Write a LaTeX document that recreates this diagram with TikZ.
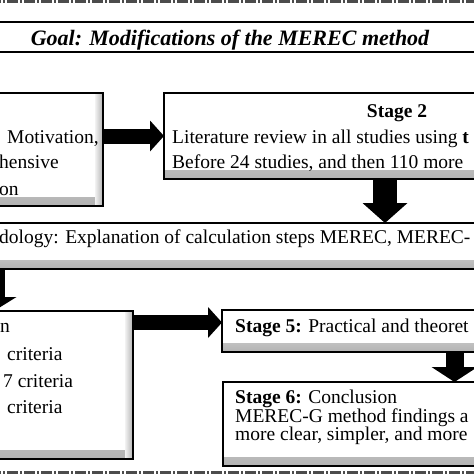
\documentclass[tikz,border=0pt]{standalone}
\usepackage{fontspec}
\setmainfont{Liberation Serif}
\usetikzlibrary{arrows.meta}

\begin{document}
\begin{tikzpicture}[x=1pt, y=-1pt, font=\fontsize{19.5}{19.5}\selectfont,
    stagebox/.style = {draw, line width=1.2pt, inner sep=0pt, outer sep=0pt, anchor=north west,
      path picture={
        \shade[top color=gray!10, bottom color=gray!60] ([yshift=9pt]path picture bounding box.south west) rectangle (path picture bounding box.south east);
        \shade[left color=gray!10, right color=gray!60] ([xshift=-8pt]path picture bounding box.north east) rectangle (path picture bounding box.south east);
      }},
    goalbox/.style = {draw, line width=1.2pt, inner sep=0pt, outer sep=0pt, anchor=north west,
      path picture={
        \shade[top color=gray!70, bottom color=white] (path picture bounding box.north west) rectangle ([yshift=8pt]path picture bounding box.north east);
      }},
    txt/.style = {anchor=base west, inner sep=0pt},
    frame/.style = {draw=gray!60!black, line width=3pt, dash pattern=on 11pt off 2pt on 2pt off 2pt},
    blockright/.style = {line width=15pt, -{Triangle[length=14pt, width=31pt, line width=0pt]}},
    blockdown/.style = {line width=24pt, -{Triangle[length=20pt, width=45pt, line width=0pt]}}]
  \useasboundingbox (0,0) rectangle (474,474);

  \draw[frame] (-10,1.5) -- (484,1.5);
  \draw[frame] (-10,472.5) -- (484,472.5);

  \node[goalbox, minimum width=520pt, minimum height=30pt] (goal) at (-20,22) {};
  \node[anchor=base, inner sep=0pt, font=\fontsize{22}{22}\selectfont\bfseries\itshape] (goaltext) at (230,45) {Goal: Modifications of the MEREC method};

  \node[stagebox, minimum width=203pt, minimum height=113pt] (s1) at (-100,93) {};
  \node[stagebox, minimum width=466pt, minimum height=86pt] (s2) at (164,93) {};
  \node[stagebox, minimum width=700pt, minimum height=46pt] (s3) at (-100,223) {};
  \node[stagebox, minimum width=233pt, minimum height=148pt] (s4) at (-100,311) {};
  \node[stagebox, minimum width=380pt, minimum height=42pt] (s5) at (222,310) {};
  \node[stagebox, minimum width=380pt, minimum height=84pt] (s6) at (223,382) {};

  \node[txt] (t1a) at (7,143) {Motivation,};
  \node[txt] (t1b) at (-1,168) {hensive};
  \node[txt] (t1c) at (-1,195) {on};

  \node[anchor=base, inner sep=0pt] (t2a) at (397,117) {\textbf{Stage 2}};
  \node[txt] (t2b) at (172,143) {Literature review in all studies using \textbf{t}};
  \node[txt] (t2c) at (172,168) {Before 24 studies, and then 110 more};

  \node[txt] (t3) at (-1,243) {dology: Explanation of calculation steps MEREC, MEREC-};

  \node[txt] (t4a) at (0,332) {n};
  \node[txt] (t4b) at (7,360) {criteria};
  \node[txt] (t4c) at (3,387) {7 criteria};
  \node[txt] (t4d) at (7,413) {criteria};

  \node[txt] (t5) at (235,332) {\textbf{Stage 5:} Practical and theoret};

  \node[txt] (t6a) at (235,403) {\textbf{Stage 6:} Conclusion};
  \node[txt] (t6b) at (235,422) {MEREC-G method findings a};
  \node[txt] (t6c) at (235,440) {more clear, simpler, and more};

  % arrows between the stages
  \coordinate (c2) at (385,0);
  \coordinate (c3) at (-6,0);
  \coordinate (c4) at (0,322.5);
  \coordinate (c5) at (454.5,0);
  \draw[blockright] (s1.east |- s2.west) -- (s2.west);
  \draw[blockdown] (s2.south -| c2) -- (s3.north -| c2);
  \draw[blockdown, line width=22pt, -{Triangle[length=14pt, width=45pt, line width=0pt]}] (s3.south -| c3) -- (s4.north -| c3);
  \draw[blockright] (s4.east |- c4) -- (s5.west |- c4);
  \draw[blockdown, line width=18pt, -{Triangle[length=15pt, width=46pt, line width=0pt]}] (s5.south -| c5) -- (s6.north -| c5);
\end{tikzpicture}
\end{document}
